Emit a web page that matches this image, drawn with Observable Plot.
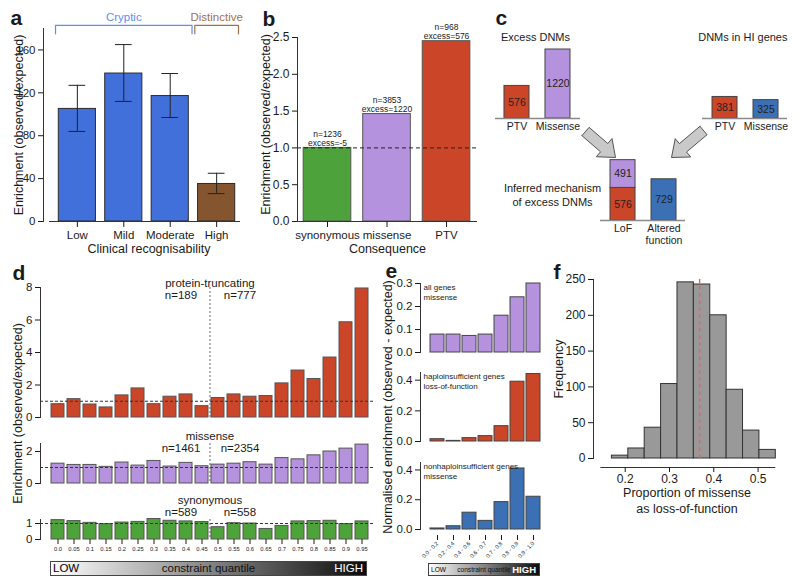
<!DOCTYPE html>
<html><head><meta charset="utf-8">
<script src="https://cdn.jsdelivr.net/npm/d3@7"></script>
<script src="https://cdn.jsdelivr.net/npm/@observablehq/plot@0.6"></script>
<style>
body{margin:0;background:#fff;}
#fig{position:relative;width:800px;height:588px;overflow:hidden;font-family:"Liberation Sans",Arial,sans-serif;background:#fff;}
#fig svg{position:absolute;}
.grad{position:absolute;border:1px solid #444;box-sizing:border-box;background:linear-gradient(to right,#ffffff,#0b0b0b);}
.grad span{position:absolute;top:50%;transform:translateY(-50%);white-space:nowrap;line-height:1;}
</style></head><body><div id="fig"></div>
<script>
// ---------- data ----------
// panel a
const aCats = ["Low","Mild","Moderate","High"];
const aValues = [105,138,117,35];
const aLower = [84,112,97,26];
const aUpper = [127,165,138,45];
const aGroups = ["Cryptic","Cryptic","Cryptic","Distinctive"];
// panel b
const bCats = ["synonymous","missense","PTV"];
const bValues = [1.0,1.46,2.45];
const bN = [1236,3853,968];
const bExcess = [-5,1220,576];
// panel c
const cExcessCats = ["PTV","Missense"];
const cExcessValues = [576,1220];
const cHICats = ["PTV","Missense"];
const cHIValues = [381,325];
const cMechCats = ["LoF","Altered\nfunction"];
const cMechSegCat = ["LoF","LoF","Altered\nfunction"];
const cMechSegType = ["PTV","Missense","Altered"];
const cMechSegValue = [576,491,729];
// panel d
const dQuantiles = ["0.0","0.05","0.1","0.15","0.2","0.25","0.3","0.35","0.4","0.45","0.5","0.55","0.6","0.65","0.7","0.75","0.8","0.85","0.9","0.95"];
const dPTV = [0.82,1.13,0.80,0.62,1.36,1.79,0.82,1.28,1.42,0.70,1.20,1.42,1.28,1.32,2.10,2.89,2.37,3.69,5.86,7.94];
const dMissense = [1.24,1.16,1.16,1.04,1.31,1.12,1.41,1.06,1.29,1.08,1.18,1.24,1.33,1.18,1.59,1.51,1.76,2.00,2.18,2.43];
const dSynonymous = [1.21,1.15,1.04,0.96,1.06,1.10,1.28,1.17,1.13,1.09,0.77,1.02,1.00,0.66,0.85,1.13,1.15,1.17,0.96,1.13];
const dPTVn = [189,777];
const dMissenseN = [1461,2354];
const dSynonymousN = [589,558];
const dSplit = "0.5";
// panel e
const eBins = ["0.0 - 0.2","0.2 - 0.4","0.4 - 0.6","0.6 - 0.7","0.7 - 0.8","0.8 - 0.9","0.9 - 1.0"];
const eAllMissense = [0.078,0.078,0.072,0.078,0.16,0.24,0.30];
const eHILoF = [0.015,0.004,0.022,0.035,0.10,0.39,0.44];
const eNonHIMissense = [0.007,0.022,0.113,0.058,0.184,0.41,0.22];
// panel f
const fBinEdges = [0.17,0.207,0.244,0.281,0.318,0.355,0.392,0.429,0.466,0.503,0.54];
const fCounts = [4,14,43,104,246,243,200,96,39,12];
const fMean = 0.368;

// ---------- styles ----------
const FONT = "Liberation Sans, Arial, Helvetica, sans-serif";
const S = () => ({fontFamily: FONT, background: "transparent", overflow: "visible", color: "#1a1a1a"});
const GREEN = "#4ea23b", PURPLE = "#b592dd", RED = "#cb4629", BLUE = "#3c70b4";
const aBarColor = {Cryptic: "#4270da", Distinctive: "#85552f"};
const aBracketColor = {Cryptic: "#5d8ef0", Distinctive: "#a3704f"};
const fig = document.getElementById("fig");
function mount(el, left, top){ el.style.position="absolute"; el.style.left=left+"px"; el.style.top=top+"px"; fig.appendChild(el); }
const panelLabel = (t, dx, dy) => Plot.text([t], {frameAnchor:"top-left", dx, dy, fontWeight:"bold", fontSize:21, textAnchor:"start", lineAnchor:"top"});
const yTitle = (t, dx, dy=0) => Plot.text([t], {frameAnchor:"left", dx, dy, rotate:-90, textAnchor:"middle", lineAnchor:"middle", fontSize:12.5});

// ---------- panel a ----------
const aData = aCats.map((cat,i)=>({cat, i, v:aValues[i], lo:aLower[i], hi:aUpper[i], g:aGroups[i]}));
const aGroupNames = [...new Set(aGroups)];
const aBrackets = aGroupNames.flatMap(g => {
  const idx = aData.filter(d=>d.g===g).map(d=>d.i);
  const a = d3.min(idx)-0.47, b = d3.max(idx)+0.47;
  return [{g,x:a,y:175},{g,x:a,y:183},{g,x:b,y:183},{g,x:b,y:175}];
});
const aBracketLabels = aGroupNames.map(g => {
  const idx = aData.filter(d=>d.g===g).map(d=>d.i);
  return {g, x:(d3.min(idx)+d3.max(idx))/2, y:190};
});
mount(Plot.plot({
  width:250, height:265, marginLeft:43, marginRight:6, marginTop:28, marginBottom:44,
  style:S(),
  x:{type:"linear", domain:[-0.6,3.6], insetLeft:6},
  y:{domain:[0,180]},
  color:{type:"identity"},
  marks:[
    Plot.rect(aData,{x1:d=>d.i-0.4, x2:d=>d.i+0.4, y1:0, y2:"v", fill:d=>aBarColor[d.g], stroke:"#2b2b2b", strokeWidth:1}),
    Plot.ruleX(aData,{x:"i", y1:"lo", y2:"hi", stroke:"#222"}),
    Plot.ruleY(aData,{y:"lo", x1:d=>d.i-0.18, x2:d=>d.i+0.18, stroke:"#222"}),
    Plot.ruleY(aData,{y:"hi", x1:d=>d.i-0.18, x2:d=>d.i+0.18, stroke:"#222"}),
    Plot.ruleY([0],{insetLeft:6, insetRight:4, stroke:"#333"}),
    Plot.frame({anchor:"left", stroke:"#333"}),
    Plot.axisY({ticks:[0,40,80,120,160], tickSize:5, tickPadding:3, fontSize:11.5, label:null}),
    Plot.axisX({ticks:aData.map(d=>d.i), tickFormat:i=>aCats[i], tickSize:6, tickPadding:3, fontSize:11.5, label:null}),
    Plot.line(aBrackets,{x:"x", y:"y", z:"g", stroke:d=>aBracketColor[d.g], strokeWidth:1.2}),
    Plot.text(aBracketLabels,{x:"x", y:"y", text:"g", fill:d=>aBracketColor[d.g], fontSize:11.5}),
    yTitle("Enrichment (observed/expected)", -25),
    Plot.text(["Clinical recognisability"],{frameAnchor:"bottom", lineAnchor:"middle", dx:5, dy:27, fontSize:12.5}),
    panelLabel("a", -33, -18)
  ]
}), 0, 0);

// ---------- panel b ----------
const bColor = [GREEN, PURPLE, RED];
const bData = bCats.map((cat,i)=>({cat, i, v:bValues[i], lab:`n=${bN[i]}\nexcess=${bExcess[i]}`}));
mount(Plot.plot({
  width:240, height:265, marginLeft:47, marginRight:13, marginTop:37, marginBottom:44,
  style:S(),
  x:{type:"linear", domain:[-0.504,2.52]},
  y:{domain:[0,2.5]},
  color:{type:"identity"},
  marks:[
    Plot.rect(bData,{x1:d=>d.i-0.4, x2:d=>d.i+0.4, y1:0, y2:"v", fill:d=>bColor[d.i], stroke:"#555", strokeWidth:1}),
    Plot.ruleY([0],{stroke:"#333"}),
    Plot.ruleY([1],{stroke:"#222", strokeDasharray:"4,3"}),
    Plot.frame({anchor:"left", stroke:"#333"}),
    Plot.text(bData,{x:"i", y:"v", text:"lab", lineAnchor:"bottom", dy:-2, fontSize:8.5, lineHeight:1.05}),
    Plot.axisY({ticks:[0,0.5,1,1.5,2,2.5], tickFormat:".1f", tickSize:5, tickPadding:3, fontSize:12, label:null}),
    Plot.axisX({ticks:bData.map(d=>d.i), tickFormat:i=>bCats[i], tickSize:6, tickPadding:3, fontSize:11.5, label:null}),
    yTitle("Enrichment (observed/expected)", -32, -5),
    Plot.text(["Consequence"],{frameAnchor:"bottom", lineAnchor:"middle", dy:27, fontSize:12.5}),
    panelLabel("b", -35, -26)
  ]
}), 250, 0);

// ---------- panel c ----------
const cMax = 1220;
const cTypeColor = {PTV:RED, Missense:PURPLE, HIMissense:BLUE, Altered:BLUE};
function cPlot({left, top, width, height, mL, mR, mT, mB, domain, rects, cats, extra=[]}){
  return mount(Plot.plot({
    width, height, marginLeft:mL, marginRight:mR, marginTop:mT, marginBottom:mB,
    style:S(),
    x:{type:"linear", domain, axis:null},
    y:{domain:[0,cMax], axis:null},
    color:{type:"identity"},
    marks:[
      Plot.rect(rects,{x1:d=>d.i-0.305, x2:d=>d.i+0.305, y1:"y1", y2:"y2", fill:"fill", stroke:"#444", strokeWidth:1}),
      Plot.ruleY([0],{stroke:"#8a8a8a", strokeWidth:1.5}),
      Plot.text(rects,{x:"i", y:d=>(d.y1+d.y2)/2, text:d=>String(d.v), fontSize:10.5, fill:"#222"}),
      Plot.text(cats,{x:(d,i)=>i, y:0, text:d=>d, lineAnchor:"top", dy:2, fontSize:10.5, lineHeight:1.22}),
      ...extra
    ]
  }), left, top);
}
cPlot({left:490, top:25, width:95, height:115, mL:5, mR:5, mT:24, mB:22, domain:[-0.524,1.549],
  rects:cExcessCats.map((c,i)=>({i, v:cExcessValues[i], y1:0, y2:cExcessValues[i], fill:cTypeColor[c]})),
  cats:cExcessCats,
  extra:[Plot.text(["Excess DNMs"],{frameAnchor:"top", lineAnchor:"middle", dx:-2.5, dy:-12, fontSize:11}), panelLabel("c", 0, -39)]});
cPlot({left:690, top:25, width:105, height:115, mL:12, mR:8, mT:24, mB:22, domain:[-0.549,1.524],
  rects:cHICats.map((c,i)=>({i, v:cHIValues[i], y1:0, y2:cHIValues[i], fill:c==="PTV"?cTypeColor.PTV:cTypeColor.HIMissense})),
  cats:cHICats,
  extra:[Plot.text(["DNMs in HI genes"],{frameAnchor:"top-right", textAnchor:"end", lineAnchor:"middle", dy:-12, fontSize:11})]});
const cMechRects = (() => { const acc = {}; return cMechSegCat.map((c,k)=>{ const i = cMechCats.indexOf(c); const y1 = acc[c]||0; const y2 = y1 + cMechSegValue[k]; acc[c]=y2; return {i, v:cMechSegValue[k], y1, y2, fill:cTypeColor[cMechSegType[k]]}; }); })();
cPlot({left:495, top:150, width:200, height:100, mL:105, mR:10, mT:1, mB:30, domain:[-0.549,1.524],
  rects:cMechRects, cats:cMechCats,
  extra:[Plot.text(["Inferred mechanism\nof excess DNMs"],{frameAnchor:"bottom-left", textAnchor:"middle", lineAnchor:"middle", dx:-48, dy:-26, fontSize:11, lineHeight:1.27})]});
// arrows (decorative)
const arrowDefs = [{id:"left", tx:15, ty:16, px:45, py:42}, {id:"right", tx:133, ty:15, px:101, py:42}];
const arrowPts = arrowDefs.flatMap(a=>{
  const dx=a.px-a.tx, dy=a.py-a.ty, L=Math.hypot(dx,dy), ux=dx/L, uy=dy/L, nx=-uy, ny=ux;
  const sw=5.5, hw=12, hl=15, hx=a.px-ux*hl, hy=a.py-uy*hl;
  const p=[[a.tx+nx*sw,a.ty+ny*sw],[hx+nx*sw,hy+ny*sw],[hx+nx*hw,hy+ny*hw],[a.px,a.py],[hx-nx*hw,hy-ny*hw],[hx-nx*sw,hy-ny*sw],[a.tx-nx*sw,a.ty-ny*sw],[a.tx+nx*sw,a.ty+ny*sw]];
  return p.map(([x,y])=>({id:a.id,x,y}));
});
mount(Plot.plot({
  width:150, height:50, margin:0, style:S(),
  x:{type:"identity", axis:null}, y:{type:"identity", axis:null},
  marks:[Plot.line(arrowPts,{x:"x", y:"y", z:"id", fill:"#c9c9c9", stroke:"#555", strokeWidth:1, strokeLinejoin:"miter"})]
}), 570, 115);

// ---------- panel d ----------
const dXScale = {type:"band", domain:dQuantiles, padding:0.19, insetLeft:7, insetRight:4};
const dStep = 16.05;
function dPlot({top, height, mT, mB, values, ymax, ticks, color, title, ns, titleY, nY, showX=false, extra=[]}){
  const data = dQuantiles.map((q,i)=>({q, v:values[i]}));
  return mount(Plot.plot({
    width:385, height, marginLeft:40, marginRight:10, marginTop:mT, marginBottom:mB,
    style:S(),
    x:{...dXScale, axis:null},
    y:{domain:[0,ymax]},
    marks:[
      Plot.barY(data,{x:"q", y:"v", fill:color, stroke:"#555", strokeWidth:1}),
      Plot.ruleY([1],{stroke:"#333", strokeDasharray:"3,2"}),
      Plot.ruleX([dSplit],{dx:-dStep/2, stroke:"#666", strokeDasharray:"2,2"}),
      Plot.frame({anchor:"left", stroke:"#333"}),
      Plot.axisY({ticks, tickFormat:d=>String(d), tickSize:5, tickPadding:3, fontSize:11.5, label:null}),
      Plot.text([title],{x:()=>dSplit, y:()=>titleY, dx:-dStep/2, fontSize:11.5}),
      Plot.text([`n=${ns[0]}`],{x:()=>dSplit, y:()=>nY, dx:-dStep/2-29, fontSize:11.5}),
      Plot.text([`n=${ns[1]}`],{x:()=>dSplit, y:()=>nY, dx:-dStep/2+30, fontSize:11.5}),
      ...(showX ? [Plot.axisX({tickSize:5, tickPadding:2, fontSize:5.8, label:null})] : []),
      ...extra
    ]
  }), 0, top);
}
dPlot({top:258, height:167, mT:29, mB:8, values:dPTV, ymax:8, ticks:[0,2,4,6,8], color:RED,
  title:"protein-truncating", ns:dPTVn, titleY:8.25, nY:7.5, extra:[panelLabel("d", -28, -22)]});
dPlot({top:430, height:60, mT:13, mB:7, values:dMissense, ymax:2.5, ticks:[0,2], color:PURPLE,
  title:"missense", ns:dMissenseN, titleY:2.94, nY:2.2,
  extra:[yTitle("Enrichment (observed/expected)", -23, -50)]});
dPlot({top:495, height:70, mT:24, mB:26, values:dSynonymous, ymax:1.25, ticks:[0,1], color:GREEN,
  title:"synonymous", ns:dSynonymousN, titleY:2.44, nY:1.7, showX:true});

// ---------- panel e ----------
const eXScale = {type:"band", domain:eBins, padding:0.14, insetLeft:6};
function ePlot({top, height, mT, mB, values, ymax, ticks, color, label, showX=false, extra=[]}){
  const data = eBins.map((b,i)=>({b, v:values[i]}));
  return mount(Plot.plot({
    width:170, height, marginLeft:40, marginRight:7, marginTop:mT, marginBottom:mB,
    style:S(),
    x:{...eXScale, axis:null},
    y:{domain:[0,ymax]},
    marks:[
      Plot.barY(data,{x:"b", y:"v", fill:color, stroke:"#444", strokeWidth:1}),
      Plot.frame({anchor:"left", stroke:"#333"}),
      Plot.axisY({ticks, tickFormat:".1f", tickSize:5, tickPadding:3, fontSize:11.5, label:null}),
      Plot.text([label],{frameAnchor:"top-left", dx:3, dy:-1, textAnchor:"start", lineAnchor:"top", fontSize:8, lineHeight:1.25}),
      ...(showX ? [Plot.axisX({tickSize:5, tickPadding:2, tickRotate:-45, dy:6, fontSize:5.6, label:null})] : []),
      ...extra
    ]
  }), 380, top);
}
ePlot({top:275, height:85, mT:8, mB:8, values:eAllMissense, ymax:0.3, ticks:[0,0.1,0.2,0.3], color:PURPLE,
  label:"all genes\nmissense", extra:[panelLabel("e", -35, -20)]});
ePlot({top:365, height:85, mT:7, mB:9, values:eHILoF, ymax:0.45, ticks:[0,0.2,0.4], color:RED,
  label:"haploinsufficient genes\nloss-of-function",
  extra:[yTitle("Normalised enrichment (observed - expected)", -33)]});
ePlot({top:455, height:105, mT:7, mB:31, values:eNonHIMissense, ymax:0.45, ticks:[0,0.2,0.4], color:BLUE,
  label:"nonhaploinsufficient genes\nmissense", showX:true});

// ---------- panel f ----------
const fData = fCounts.map((c,i)=>({x1:fBinEdges[i], x2:fBinEdges[i+1], c}));
const fAxisExtent = [fBinEdges[0]-0.025, fBinEdges[fBinEdges.length-1]];
mount(Plot.plot({
  width:260, height:270, marginLeft:53, marginRight:20, marginTop:24, marginBottom:67,
  style:S(),
  x:{domain:[0.1284,0.5506]},
  y:{domain:[0,250]},
  marks:[
    Plot.rect(fData,{x1:"x1", x2:"x2", y1:0, y2:"c", fill:"#999999", stroke:"#333", strokeWidth:1}),
    Plot.ruleX([fMean],{y1:0, y2:251, stroke:"#e06666", strokeWidth:1.5, strokeDasharray:"4,3"}),
    Plot.frame({anchor:"left", stroke:"#333"}),
    Plot.ruleY([0],{x1:fAxisExtent[0], x2:fAxisExtent[1], dy:9, stroke:"#333"}),
    Plot.axisY({ticks:[0,50,100,150,200,250], tickSize:5, tickPadding:3, fontSize:12, label:null}),
    Plot.axisX({ticks:[0.2,0.3,0.4,0.5], tickFormat:".1f", tickSize:5, tickPadding:2, dy:9, fontSize:12, label:null}),
    yTitle("Frequency", -35),
    Plot.text(["Proportion of missense\nas loss-of-function"],{frameAnchor:"bottom", lineAnchor:"middle", dy:41, fontSize:12.5, lineHeight:1.28}),
    panelLabel("f", -40, -15)
  ]
}), 540, 255);

// ---------- gradient legends ----------
function gradient(left, top, width, height, lowSize, midSize, highSize, highBold){
  const g = document.createElement("div");
  g.className = "grad";
  Object.assign(g.style, {left:left+"px", top:top+"px", width:width+"px", height:height+"px"});
  g.innerHTML = `<span style="left:2px;font-size:${lowSize}px;color:#000">LOW</span>`+
    `<span style="left:50%;transform:translate(-50%,-50%);font-size:${midSize}px;color:#111">constraint quantile</span>`+
    `<span style="right:3px;font-size:${highSize}px;color:#fff;font-weight:${highBold?'bold':'normal'}">HIGH</span>`;
  fig.appendChild(g);
}
gradient(50, 561, 317, 15, 11.5, 11.5, 11.5, false);
gradient(428, 563, 112, 13, 6.6, 6.6, 9.5, true);
</script></body></html>
